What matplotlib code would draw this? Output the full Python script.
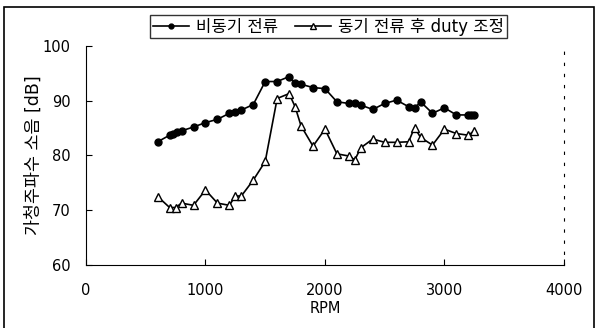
import matplotlib
matplotlib.use("Agg")
import matplotlib.pyplot as plt
from matplotlib.patches import Rectangle

plt.rcParams['font.family'] = ['DejaVu Sans', 'Noto Sans CJK KR']

rpm_async = [600, 700, 730, 760, 800, 900, 1000, 1100, 1200, 1250, 1300, 1400, 1500,
             1600, 1700, 1750, 1800, 1900, 2000, 2100, 2200, 2250, 2300, 2400, 2500,
             2600, 2700, 2750, 2800, 2900, 3000, 3100, 3200, 3225, 3250]
db_async = [82.5, 83.7, 84.0, 84.3, 84.5, 85.2, 86.0, 86.6, 87.7, 88.0, 88.3, 89.3, 93.5,
            93.5, 94.4, 93.2, 93.0, 92.4, 92.2, 89.8, 89.5, 89.5, 89.2, 88.4, 89.5,
            90.1, 88.9, 88.6, 89.8, 87.7, 88.7, 87.4, 87.4, 87.4, 87.4]

rpm_sync = [600, 700, 750, 800, 900, 1000, 1100, 1200, 1250, 1300, 1400, 1500, 1600,
            1700, 1750, 1800, 1900, 2000, 2100, 2200, 2250, 2300, 2400, 2500, 2600,
            2700, 2750, 2800, 2900, 3000, 3100, 3200, 3250]
db_sync = [72.5, 70.5, 70.5, 71.3, 70.9, 73.7, 71.3, 70.9, 72.6, 72.6, 75.5, 78.9, 90.4,
           91.3, 88.9, 85.4, 81.7, 84.8, 80.3, 79.9, 79.2, 81.4, 83.0, 82.4, 82.4,
           82.5, 85.1, 83.3, 81.9, 84.8, 84.0, 83.7, 84.5]

label_async = '비동기 전류'
label_sync = '동기 전류 후 duty 조정'
xticks = [0, 1000, 2000, 3000, 4000]
yticks = [60, 70, 80, 90, 100]

fig = plt.figure(figsize=(5.98, 3.28), dpi=100)
ax = fig.add_axes([0.1438, 0.192, 0.943 - 0.1438, 0.860 - 0.192])

ax.plot(rpm_async, db_async, color='black', lw=1.2, marker='o', ms=5,
        mfc='black', mec='black', label=label_async)
ax.plot(rpm_sync, db_sync, color='black', lw=1.2, marker='^', ms=6,
        mfc='white', mec='black', mew=1.0, label=label_sync)

ax.set_xlim(0, 4000)
ax.set_ylim(60, 100)
ax.set_xticks(xticks)
ax.set_yticks(yticks)
ax.tick_params(direction='in', length=4, labelsize=10.5)
ax.tick_params(axis='y', pad=11)
ax.tick_params(axis='x', pad=13)
ax.spines['top'].set_visible(False)
ax.spines['right'].set_linestyle((0, (2, 8)))
ax.spines['right'].set_linewidth(0.8)
ax.set_xlabel('RPM', fontsize=10.5, labelpad=2)
ax.set_ylabel('가청주파수 소음 [dB]', fontsize=12.5, labelpad=0)

leg = ax.legend(loc='lower center', bbox_to_anchor=(0.507, 1.035), ncol=2,
                frameon=True, fancybox=False, edgecolor='black', fontsize=12,
                handlelength=2.2, handletextpad=0.4, columnspacing=1.0,
                borderpad=0.15, borderaxespad=0, markerscale=0.7)
leg.get_frame().set_linewidth(1.0)

fig.patches.append(Rectangle((0.006, -0.01), 0.988, 0.99, transform=fig.transFigure,
                             fill=False, edgecolor='black', lw=1.2))

fig.savefig('out.png', dpi=100)
